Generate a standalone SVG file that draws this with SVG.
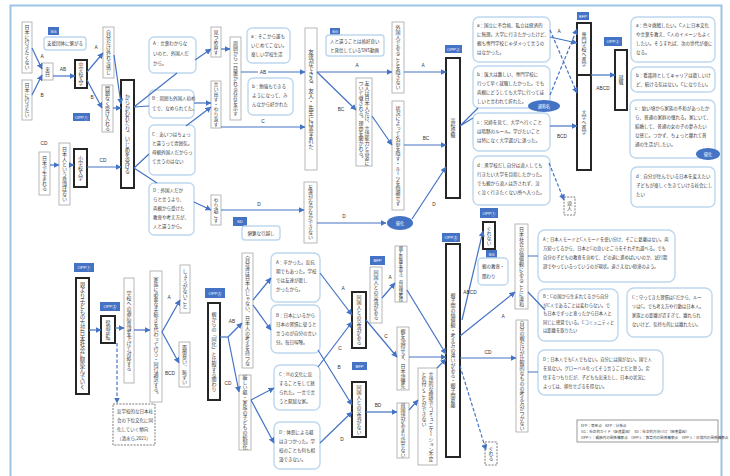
<svg xmlns="http://www.w3.org/2000/svg" width="730" height="476" viewBox="0 0 730 476">
<defs>
<style>
text{font-family:"Noto Sans CJK JP","Noto Sans",sans-serif;fill:#404040}
.v{writing-mode:vertical-rl;text-anchor:middle;font-size:5px}
.vs{writing-mode:vertical-rl;text-anchor:start;font-size:5px}
.t{font-size:4.5px}
.s{font-size:3.6px}
.lb{font-family:"Liberation Sans",sans-serif;font-size:4.8px;fill:#333;text-anchor:middle}
.bx{fill:#fff;stroke:#a6a6a6;stroke-width:0.8}
.tk{fill:#fff;stroke:#262626;stroke-width:2}
.rb{fill:#fff;stroke:#bdd7ee;stroke-width:1.4}
.db{fill:#fff;stroke:#595959;stroke-width:0.8;stroke-dasharray:2 1.2}
.tag{fill:#4472c4}
.tg{font-family:"Liberation Sans","Noto Sans CJK JP",sans-serif;font-size:4.2px;fill:#fff;text-anchor:middle}
.c{stroke:#4472c4;stroke-width:1.2;fill:none}
.a{marker-end:url(#ah)}
.d{stroke-dasharray:3.5 2}
</style>
<marker id="ah" markerWidth="6" markerHeight="6" refX="5.5" refY="3" orient="auto" markerUnits="userSpaceOnUse"><path d="M0,0 L6,3 L0,6 z" fill="#4472c4"/></marker>
</defs>
<rect width="730" height="476" fill="#fff"/>
<rect x="10.5" y="5.5" width="711" height="490" fill="none" stroke="#9dc3e6" stroke-width="2"/>

<!-- top-left -->
<g id="n-ikitakunai"><rect class="bx" x="22" y="22" width="10" height="51"/><text class="v" x="27" y="47.5">日本に行きたくない</text></g>
<g id="n-ikitai"><rect class="bx" x="22" y="80" width="10" height="40"/><text class="v" x="27" y="100">日本に行きたい</text></g>
<g id="sg1"><rect class="tag" x="48" y="27" width="11" height="8"/><text class="tg" x="53.5" y="32.8">SG</text><rect class="rb" x="44" y="37" width="42" height="13" rx="3"/><text class="t" x="65" y="45.3" text-anchor="middle">支援団体に繋がる</text></g>
<g id="n-rainichi"><rect class="bx" x="42" y="63" width="11" height="17"/><text class="v" x="47.5" y="71.5">来日</text></g>
<g id="n-chugaku"><rect class="tk" x="75" y="60" width="12" height="28"/><text class="v" x="81" y="74" style="font-size:4.8px">中学校入学</text></g>
<g id="n-hazureru"><rect class="bx" x="103" y="27" width="11" height="51"/><text class="v" x="108.5" y="52.5">自分だけ外れる感じ</text></g>
<g id="n-mondainaku"><rect class="bx" x="102" y="85" width="11" height="47"/><text class="v" x="107.5" y="108.5">問題なく受け入れる</text></g>
<g id="opp1a"><rect class="tag" x="73" y="113" width="17" height="8"/><text class="tg" x="81.5" y="118.8">OPP①</text></g>
<g id="n-karakawa"><rect class="tk" x="121" y="80" width="13" height="108"/><text class="v" x="127.5" y="134" style="font-size:5.3px">からかわれたり、いじめを受ける</text></g>
<g id="n-umareru"><rect class="bx" x="39" y="152" width="11" height="43"/><text class="v" x="44.5" y="173.5">日本で生まれる</text></g>
<g id="n-ishiki"><rect class="bx" x="59" y="143" width="11" height="62"/><text class="v" x="64.5" y="174">日本人という意識はない</text></g>
<g id="n-shogaku"><rect class="tk" x="74" y="149" width="13" height="38"/><text class="v" x="80.5" y="168">小学校入学</text></g>

<g id="r-A"><rect class="rb" x="149" y="37" width="47" height="36" rx="5"/><text class="t" x="153" y="45">A：言葉わからな</text><text class="t" x="153" y="55">いのと、外国人だ</text><text class="t" x="153" y="65">から。</text></g>
<g id="r-B"><rect class="rb" x="149" y="90" width="45" height="28" rx="5"/><text class="t" x="152" y="100">B：周囲も外国人初め</text><text class="t" x="152" y="110">てで、なめられてた。</text></g>
<g id="r-C"><rect class="rb" x="149" y="125" width="46" height="50" rx="5"/><text class="t" x="152" y="136">C：あいつはちょっ</text><text class="t" x="152" y="145">と違うって雰囲気。</text><text class="t" x="152" y="154">母親外国人だからっ</text><text class="t" x="152" y="163">て言うのはない</text></g>
<g id="r-D"><rect class="rb" x="149" y="183" width="45" height="52" rx="5"/><text class="t" x="153" y="192">D：外国人だか</text><text class="t" x="153" y="201">らと言うより、</text><text class="t" x="153" y="210">両親から受けた</text><text class="t" x="153" y="219">教育や考え方が、</text><text class="t" x="153" y="228">人と違うから。</text></g>

<g id="n-mitsume"><rect class="bx" x="211" y="27" width="10" height="30"/><text class="v" x="216" y="42">見つめ直す</text></g>
<g id="n-iidasu"><rect class="bx" x="211" y="81" width="10" height="47"/><text class="v" x="216" y="104.5">言い出す・やり返す</text></g>
<g id="n-ichimoku"><rect class="bx" x="230" y="37" width="11" height="83"/><text class="v" x="235.5" y="78.5">周囲から一目置かれる存在を示す</text></g>
<g id="r-a1"><rect class="rb" x="247" y="28" width="43" height="35" rx="5"/><text class="t" x="251" y="38">a：そこから誰も</text><text class="t" x="251" y="47">いじめてこない。</text><text class="t" x="251" y="56">楽しい学校生活</text></g>
<g id="r-b1"><rect class="rb" x="248" y="78" width="45" height="37" rx="5"/><text class="t" x="252" y="88">b：勉強もできる</text><text class="t" x="252" y="97">ようになって、み</text><text class="t" x="252" y="106">んなから好かれた</text></g>
<g id="n-yarisugosu"><rect class="bx" x="211" y="195" width="10" height="30"/><text class="v" x="216" y="210">やり過ごす</text></g>
<g id="sd1"><rect class="tag" x="233" y="217" width="14" height="9"/><text class="tg" x="240" y="223.3">SD</text><rect class="rb" x="242" y="226" width="38" height="14" rx="3"/><text class="t" x="261" y="234.8" text-anchor="middle">頻繁な引越し</text></g>
<g id="n-tomodachi"><rect class="bx" x="305" y="28" width="12" height="142"/><text class="v" x="311" y="99" style="font-size:5.6px">友達ができる、友人・先生には恵まれた</text></g>
<g id="n-dekinai"><rect class="bx" x="304" y="182" width="13" height="61"/><text class="v" x="310.5" y="212.5">友達がなかなかできない</text></g>
<g id="sg2"><rect class="tag" x="330" y="28" width="10" height="7"/><text class="tg" x="335" y="33.3">SG</text><rect class="rb" x="326" y="35" width="58" height="21" rx="3"/><text class="t" x="330" y="43">人と違うことは格好良い</text><text class="t" x="330" y="51.5">と発信しているSNS動画</text></g>
<g id="n-kakusanai"><rect class="bx" x="392" y="22" width="12" height="71"/><text class="v" x="398" y="57.5">外国人であることを隠さない</text></g>
<g id="n-yujin"><rect class="bx" x="356" y="78" width="16" height="88"/><text class="vs" x="367" y="81">友人は日本人だけ、言語能力と容姿に</text><text class="vs" x="361" y="81">ついて囃される。理由を聞かれる。</text></g>
<g id="n-jokyo"><rect class="bx" x="392" y="101" width="12" height="109"/><text class="v" x="398" y="155.5">状況によって名前を隠す・ルーツを隠蔽せず</text></g>
<g id="kika1"><ellipse cx="400" cy="223" rx="13" ry="7" fill="#4472c4"/><text class="tg" x="400" y="224.6">帰化</text></g>
<g id="opp2a"><rect class="tag" x="445" y="45" width="17" height="8"/><text class="tg" x="453.5" y="50.8">OPP②</text></g>
<g id="n-koko"><rect class="tk" x="446" y="58" width="14" height="140"/><text class="v" x="453" y="128">高校受験</text></g>

<g id="r-a2"><rect class="rb" x="473" y="17" width="77" height="45" rx="6"/><text class="t" x="477" y="27">a：国立に不合格、私立は経済的</text><text class="t" x="477" y="36">に無理。大学に行きたかったけど、</text><text class="t" x="477" y="45">親も専門学校じゃダメって言うの</text><text class="t" x="477" y="54">はなかった。</text></g>
<g id="r-b2"><rect class="rb" x="473" y="66" width="77" height="42" rx="6"/><text class="t" x="477" y="76">b：医大は難しい、専門学校に</text><text class="t" x="477" y="85">行って早く就職したかった。でも</text><text class="t" x="477" y="94">両親にどうしても大学に行ってほ</text><text class="t" x="477" y="103">しいと言われて折れた。</text></g>
<g id="tsusho"><ellipse cx="544" cy="106" rx="16" ry="6" fill="#4472c4"/><text class="tg" x="544" y="107.6">通称名</text></g>
<g id="r-c2"><rect class="rb" x="473" y="113" width="77" height="38" rx="6"/><text class="t" x="477" y="124">c：兄姉を見て、大学へ行くこと</text><text class="t" x="477" y="133">は暗黙のルール。学びたいこと</text><text class="t" x="477" y="142">は特になく大学選びに迷った。</text></g>
<g id="r-d2"><rect class="rb" x="473" y="156" width="77" height="49" rx="6"/><text class="t" x="477" y="167">d：進学校だし自分は浪人しても</text><text class="t" x="477" y="176">行きたい大学を目指したかった。</text><text class="t" x="477" y="185">でも親から浪人は許されず、泣</text><text class="t" x="477" y="194">く泣く行きたくない所へ入った。</text></g>

<g id="efp"><rect class="tag" x="577" y="12" width="12" height="8"/><text class="tg" x="583" y="17.8">EFP</text></g>
<g id="n-senmon"><rect class="tk" x="577" y="23" width="14" height="52"/><text class="v" x="584" y="49">専門学校へ進学</text></g>
<g id="n-daigaku"><rect class="tk" x="577" y="75" width="14" height="95"/><text class="v" x="584" y="122">大学へ進学</text></g>
<g id="n-ronin"><rect class="db" x="564" y="197" width="11" height="18"/><text class="v" x="569.5" y="206">浪人</text></g>
<g id="opp2b"><rect class="tag" x="604" y="37" width="18" height="9"/><text class="tg" x="613" y="43.2">OPP②</text></g>
<g id="n-shushoku"><rect class="tk" x="615" y="50" width="12" height="60"/><text class="v" x="621" y="80">就職</text></g>

<g id="r-a3"><rect class="rb" x="631" y="17" width="84" height="45" rx="6"/><text class="t" x="636" y="27">a：色々挑戦したい。C人に日本文化</text><text class="t" x="636" y="36">や言葉を教え、C人のイメージもよく</text><text class="t" x="636" y="45">したい。そうすれば、次の世代が楽に</text><text class="t" x="636" y="54">なる。</text></g>
<g id="r-b3"><rect class="rb" x="631" y="67" width="84" height="25" rx="6"/><text class="t" x="636" y="77">b：看護師としてキャリアは欲しいけ</text><text class="t" x="636" y="86">ど、続ける気はない。Cになりたい。</text></g>
<g id="r-c3"><rect class="rb" x="630" y="100" width="85" height="58" rx="6"/><text class="t" x="635" y="110">c：幼い頃から家族の不和があったか</text><text class="t" x="635" y="119">ら、普通の家庭の憧れる。家にいて、</text><text class="t" x="635" y="128">結婚して、普通の女の子の夢みたい</text><text class="t" x="635" y="137">な感じ。つかず、ちょっと離れて普</text><text class="t" x="635" y="146">通の生活がしたい。</text></g>
<g id="kika2"><ellipse cx="708" cy="154" rx="12" ry="6" fill="#4472c4"/><text class="tg" x="708" y="155.6">帰化</text></g>
<g id="r-d3"><rect class="rb" x="631" y="167" width="84" height="40" rx="6"/><text class="t" x="636" y="178">d：自分が住んでいる日本を変えたい</text><text class="t" x="636" y="187">子どもが楽しく生きていける社会にし</text><text class="t" x="636" y="196">たい</text></g>

<!-- bottom -->
<g id="opp1b"><rect class="tag" x="74" y="263" width="20" height="9"/><text class="tg" x="84" y="269.3">OPP①</text></g>
<g id="n-oyoriko"><rect class="tk" x="76" y="278" width="13" height="116"/><text class="v" x="82.5" y="336" style="font-size:5.4px">親より子どもの方が日本社会に馴染んでいく</text></g>
<g id="opp3a"><rect class="tag" x="100" y="302" width="20" height="9"/><text class="tg" x="110" y="308.3">OPP③</text></g>
<g id="n-yakuwari"><rect class="tk" x="101" y="316" width="14" height="27"/><text class="v" x="108" y="329.5">役割逆転</text></g>
<g id="n-tekio"><rect class="bx" x="124" y="278" width="10" height="105"/><text class="v" x="129" y="330.5">学校への適応意識を下げて対処する</text></g>
<g id="n-tetsuzuki"><rect class="bx" x="150" y="271" width="12" height="131"/><text class="v" x="156" y="336.5">家族に必要な手続きを代わって行う・同行通訳する。</text></g>
<g id="n-shoganai"><rect class="bx" x="180" y="265" width="10" height="48"/><text class="v" x="185" y="289">しょうがないこと</text></g>
<g id="n-mendo"><rect class="bx" x="179" y="342" width="11" height="45"/><text class="v" x="184.5" y="364.5">面倒臭い、恥ずい</text></g>
<g id="n-hangakko"><rect class="db" x="113" y="404" width="42" height="41"/><text class="t" x="117" y="413">反学校的な日本社</text><text class="t" x="117" y="422">会の下位文化に同</text><text class="t" x="117" y="431">化していく傾向</text><text class="t" x="117" y="440">（清水ら,2021）</text></g>

<g id="opp3b"><rect class="tag" x="205" y="288" width="20" height="10"/><text class="tg" x="215" y="294.8">OPP③</text></g>
<g id="n-doka"><rect class="tk" x="208" y="303" width="12" height="97"/><text class="v" x="214" y="351.5">親からの「同化」と比較する関わり</text></g>
<g id="n-jibuntachi"><rect class="bx" x="242" y="253" width="11" height="115"/><text class="v" x="247.5" y="310.5">自分達は日本人じゃない、日本人の考えを持つな</text></g>
<g id="n-shitsuke"><rect class="bx" x="239" y="375" width="12" height="75"/><text class="v" x="245" y="412.5">厳しい躾・家族の子どもの統制化</text></g>
<g id="r-A4"><rect class="rb" x="271" y="253" width="49" height="49" rx="6"/><text class="t" x="276" y="264">A：辛かった。反抗</text><text class="t" x="276" y="273">期でもあった。学校</text><text class="t" x="276" y="282">では友達が欲し</text><text class="t" x="276" y="291">かったから。</text></g>
<g id="r-B4"><rect class="rb" x="271" y="305" width="49" height="48" rx="6"/><text class="t" x="276" y="317">B：日本にいるから</text><text class="t" x="276" y="326">日本の習慣に従うと</text><text class="t" x="276" y="335">言うのが自分の言い</text><text class="t" x="276" y="344">分。毎日喧嘩。</text></g>
<g id="r-C4"><rect class="rb" x="274" y="365" width="46" height="45" rx="6"/><text class="t" x="279" y="376">C：Hの文化に反</text><text class="t" x="279" y="385">することをして怒</text><text class="t" x="279" y="394">られた。一言で言</text><text class="t" x="279" y="403">うと窮屈な家。</text></g>
<g id="r-D4"><rect class="rb" x="274" y="422" width="46" height="47" rx="6"/><text class="t" x="279" y="434">D：体罰による躾</text><text class="t" x="279" y="443">はきつかった。学</text><text class="t" x="279" y="452">校のことも何も相</text><text class="t" x="279" y="461">談できない。</text></g>

<g id="n-aru"><rect class="tk" x="352" y="292" width="14" height="56"/><text class="v" x="359" y="320">同国人との交流がある</text></g>
<g id="bfp1"><rect class="tag" x="370" y="256" width="15" height="9"/><text class="tg" x="377.5" y="262.3">BFP</text></g>
<g id="n-aru2"><rect class="bx" x="370" y="267" width="12" height="56"/><text class="v" x="376" y="295">同国人との交流がある</text></g>
<g id="bfp2"><rect class="tag" x="352" y="362" width="15" height="8"/><text class="tg" x="359.5" y="367.8">BFP</text></g>
<g id="n-nai"><rect class="tk" x="352" y="382" width="14" height="55"/><text class="v" x="359" y="409.5">同国人との交流がない</text></g>
<g id="n-kyori"><rect class="bx" x="395" y="246" width="12" height="56"/><text class="v" x="401" y="274" style="font-size:4.3px">親と距離を置き、母国語獲得</text></g>
<g id="n-settoku"><rect class="bx" x="397" y="327" width="12" height="63"/><text class="v" x="403" y="358.5">親を説得せず、日本語優先</text></g>
<g id="n-bokokugo"><rect class="bx" x="397" y="403" width="12" height="55"/><text class="v" x="403" y="430.5">母国語があまり話せない</text></g>
<g id="n-gengo"><rect class="bx" x="418" y="368" width="19" height="97"/><text class="vs" x="431" y="372">言語的な障壁でコミュニケーション不足</text><text class="vs" x="424" y="372">と気付くことができない</text></g>
<g id="opp3c"><rect class="tag" x="442" y="233" width="18" height="9"/><text class="tg" x="451" y="239.3">OPP③</text></g>
<g id="n-oyako"><rect class="tk" x="446" y="244" width="14" height="213"/><text class="v" x="453" y="350">親子間の価値観・考え方の違いがある・親子間葛藤</text></g>
<g id="opp1c"><rect class="tag" x="480" y="208" width="18" height="10"/><text class="tg" x="489" y="214.8">OPP①</text></g>
<g id="n-gurenai"><rect class="tk" x="483" y="222" width="12" height="27"/><text class="v" x="489" y="235.5">ぐれない</text></g>
<g id="sg3"><rect class="tag" x="486" y="250" width="11" height="8"/><text class="tg" x="491.5" y="255.8">SG</text><rect class="rb" x="478" y="258" width="30" height="27" rx="4"/><text class="t" x="482" y="268">親の教育・</text><text class="t" x="482" y="278">関わり</text></g>
<g id="n-iwa"><rect class="bx" x="515" y="224" width="13" height="85"/><text class="v" x="521.5" y="266.5">日本社会の価値観にあることに違和</text></g>
<g id="n-oyadake"><rect class="bx" x="516" y="320" width="12" height="112"/><text class="v" x="522" y="376">自分の親だけが比較的なものの考え方がつかない</text></g>
<g id="n-gureru"><rect class="db" x="485" y="442" width="12" height="23"/><text class="v" x="491" y="453.5">ぐれる</text></g>

<g id="r-A5"><rect class="rb" x="538" y="230" width="137" height="52" rx="7"/><text class="t" x="543" y="241" style="font-size:4.3px">A：日本人モードとC人モードを使い分け、そこに葛藤はない。両</text><text class="t" x="543" y="250" style="font-size:4.3px">方知ってるから、日本とCの良いところをそれぞれ選べる。でも</text><text class="t" x="543" y="259" style="font-size:4.3px">自分の子どもの教育を含めて、どの道に進めばいいのか、試行錯</text><text class="t" x="543" y="268" style="font-size:4.3px">誤でやっているっていうのが現状。道さえない砂漠のよう。</text></g>
<g id="r-B5"><rect class="rb" x="538" y="289" width="80" height="52" rx="7"/><text class="t" x="543" y="298" style="font-size:4.3px">B：Cの国から生まれてるから自分</text><text class="t" x="543" y="306.5" style="font-size:4.3px">がC人であることは変わらない。で</text><text class="t" x="543" y="315" style="font-size:4.3px">も日本でずっと育ったから日本人と</text><text class="t" x="543" y="323.5" style="font-size:4.3px">同じに感覚でいる。Cコミュニティと</text><text class="t" x="543" y="332" style="font-size:4.3px">は距離を取りたい</text></g>
<g id="r-C5"><rect class="rb" x="627" y="288" width="85" height="49" rx="7"/><text class="t" x="632" y="299" style="font-size:4.3px">C：守ってきた習慣はCだから、ルー</text><text class="t" x="632" y="308" style="font-size:4.3px">ツはC。でも考え方や行動は日本人。</text><text class="t" x="632" y="317" style="font-size:4.3px">家族との距離が近すぎて、離れられ</text><text class="t" x="632" y="326" style="font-size:4.3px">ないけど、気持ち的には離れたい。</text></g>
<g id="r-D5"><rect class="rb" x="538" y="350" width="125" height="45" rx="7"/><text class="t" x="543" y="361" style="font-size:4.3px">D：日本人でもC人でもない。自分には国がない。国で人</text><text class="t" x="543" y="370" style="font-size:4.3px">を見ない。グローバル化ってそう言うことだと思う。定</text><text class="t" x="543" y="379" style="font-size:4.3px">住するつもりだが、子どもも出来たし、日本の状況に</text><text class="t" x="543" y="388" style="font-size:4.3px">よっては、移住せざるを得ない。</text></g>

<g id="legend"><rect x="577" y="420" width="141" height="22" fill="#fff" stroke="#7f7f7f" stroke-width="0.8"/><text class="s" x="581" y="426.5">EFP：等至点　BFP：分岐点</text><text class="s" x="581" y="432.5">SG：社会的ガイド（促進要因）　SD：社会的方向づけ（阻害要因）</text><text class="s" x="581" y="438.5">OPP①：親族内の関係構築点　OPP②：教育内の関係構築点　OPP③：日常内の関係構築点</text></g>

<g id="connectors">
<path class="c a" d="M32,48 L42,69"/>
<path class="c a" d="M32,95 L42,75"/>
<path class="c a" d="M53,76 L75,76"/>
<path class="c a" d="M87,72 L103,53"/>
<path class="c a" d="M87,80 L102,108"/>
<path class="c a" d="M114,55 L121,104"/>
<path class="c a" d="M113,108 L121,108"/>
<path class="c a" d="M50,165 L59,165"/>
<path class="c a" d="M70,165 L74,165"/>
<path class="c a" d="M87,167 L121,167"/>
<path class="c" d="M134,107 L177,73 M134,107 L149,106 M134,168 L149,154 M134,168 L157,183"/>
<path class="c a" d="M195,60 L211,49"/>
<path class="c a" d="M194,103 L211,103"/>
<path class="c a" d="M186,126 L211,107"/>
<path class="c a" d="M221,49 L230,49"/>
<path class="c a" d="M241,72 L305,72"/>
<path class="c a" d="M221,127 L305,127"/>
<path class="c a" d="M194,202 L211,210"/>
<path class="c a" d="M221,210 L304,210"/>
<path class="c a" d="M317,223 L386,223"/>
<path class="c a" d="M317,72 L392,72"/>
<path class="c a" d="M317,72 L356,110"/>
<path class="c a" d="M404,72 L446,72"/>
<path class="c a" d="M372,116 L392,145"/>
<path class="c a" d="M404,145 L446,145"/>
<path class="c a" d="M412,219 L446,167"/>
<path class="c" d="M460,126 L478,108 M460,126 L473,118"/>
<path class="c a" d="M550,37 L577,43"/>
<path class="c a d" d="M550,30 L577,93"/>
<path class="c a d" d="M550,95 L577,29"/>
<path class="c a" d="M550,126 L577,126"/>
<path class="c a d" d="M549,163 L564,200"/>
<path class="c a" d="M591,75 L615,75"/>
<path class="c a" d="M89,330 L101,330"/>
<path class="c a" d="M115,328 L124,328"/>
<path class="c a d" d="M117,343 L117,403"/>
<path class="c a" d="M134,330 L150,330"/>
<path class="c a" d="M162,332 L180,300"/>
<path class="c a" d="M162,332 L179,363"/>
<path class="c" d="M220,337 L228,337"/>
<path class="c a" d="M228,337 L242,323"/>
<path class="c a" d="M228,337 L239,392"/>
<path class="c a" d="M253,300 L271,278"/>
<path class="c a" d="M253,305 L271,330"/>
<path class="c a" d="M251,400 L274,388"/>
<path class="c a" d="M251,400 L274,443"/>
<path class="c a" d="M320,273 L352,315"/>
<path class="c a" d="M318,367 L352,322"/>
<path class="c a" d="M318,350 L352,405"/>
<path class="c a" d="M320,443 L352,412"/>
<path class="c a" d="M382,298 L395,283"/>
<path class="c a" d="M366,320 L397,357"/>
<path class="c a" d="M366,412 L397,412"/>
<path class="c a" d="M409,410 L418,400"/>
<path class="c a" d="M407,290 L446,354"/>
<path class="c a" d="M409,357 L446,357"/>
<path class="c a" d="M437,368 L446,359"/>
<path class="c a" d="M462,320 L483,231"/>
<path class="c a" d="M460,336 L515,292"/>
<path class="c a" d="M460,358 L516,358"/>
<path class="c a d" d="M460,366 L486,450"/>
<path class="c" d="M528,256 L538,256 M528,292 L545,310 M528,372 L538,372"/>
<g>
<text class="lb" x="42" y="58">A</text><text class="lb" x="42" y="97">B</text><text class="lb" x="63" y="71">AB</text>
<text class="lb" x="96" y="49">A</text><text class="lb" x="92" y="99">B</text>
<text class="lb" x="44" y="145">CD</text><text class="lb" x="103" y="162">CD</text>
<rect x="258" y="69" width="10" height="6" fill="#fff"/><text class="lb" x="263" y="74">AB</text>
<text class="lb" x="263" y="123">C</text><text class="lb" x="259" y="206">D</text><text class="lb" x="344" y="218">D</text>
<text class="lb" x="357" y="67">A</text><text class="lb" x="341" y="111">BC</text>
<text class="lb" x="423" y="67">A</text><text class="lb" x="426" y="140">BC</text><text class="lb" x="434" y="206">D</text>
<text class="lb" x="559" y="33">A</text><text class="lb" x="562" y="138">BCD</text><text class="lb" x="603" y="90">ABCD</text>
<text class="lb" x="169" y="299">A</text><text class="lb" x="170" y="375">BCD</text>
<text class="lb" x="232" y="323">AB</text><text class="lb" x="228" y="385">CD</text>
<text class="lb" x="343" y="290">A</text><text class="lb" x="340" y="350">C</text><text class="lb" x="339" y="369">B</text><text class="lb" x="342" y="441">D</text>
<text class="lb" x="390" y="279">A</text><text class="lb" x="386" y="338">C</text><text class="lb" x="378" y="407">BD</text>
<text class="lb" x="470" y="294">ABCD</text><text class="lb" x="503" y="318">A</text><text class="lb" x="488" y="354">CD</text>
</g>
</g>
</svg>
